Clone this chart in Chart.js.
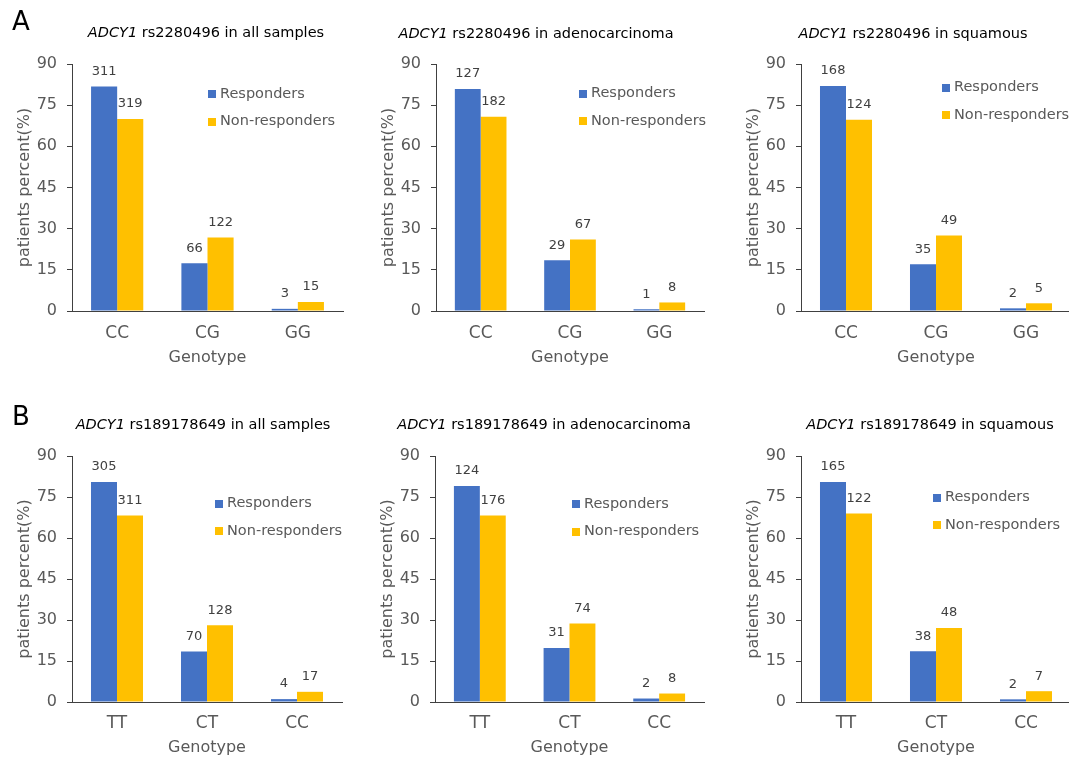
<!DOCTYPE html>
<html>
<head>
<meta charset="utf-8">
<script src="https://cdn.jsdelivr.net/npm/chart.js@4.4.1/dist/chart.umd.min.js"></script>
<style>
  html, body { margin: 0; padding: 0; background: #fff; width: 1069px; height: 759px; overflow: hidden; }
  #stage { position: relative; width: 1069px; height: 759px; overflow: hidden; }
  #stage canvas { position: absolute; }
</style>
</head>
<body>
<div id="stage"></div>
<script>
// ---- data -------------------------------------------------------------
const genotypesA = ['CC', 'CG', 'GG'];   // rs2280496
const genotypesB = ['TT', 'CT', 'CC'];   // rs189178649
const seriesNames = ['Responders', 'Non-responders'];
const yTicks = [0, 15, 30, 45, 60, 75, 90];

// patient counts per genotype
const rs2280496AllResp   = [311, 66, 3];
const rs2280496AllNon    = [319, 122, 15];
const rs2280496AdenoResp = [127, 29, 1];
const rs2280496AdenoNon  = [182, 67, 8];
const rs2280496SquamResp = [168, 35, 2];
const rs2280496SquamNon  = [124, 49, 5];

const rs189178649AllResp   = [305, 70, 4];
const rs189178649AllNon    = [311, 128, 17];
const rs189178649AdenoResp = [124, 31, 2];
const rs189178649AdenoNon  = [176, 74, 8];
const rs189178649SquamResp = [165, 38, 2];
const rs189178649SquamNon  = [122, 48, 7];

// ---- styling ----------------------------------------------------------
const FONT = "'DejaVu Sans', sans-serif";
const AXIS = '#404040';
const TEXT = '#595959';
const COLORS = ['#4472C4', '#FFC000'];

Chart.defaults.font.family = FONT;
Chart.defaults.color = TEXT;

// share of each genotype within one response group, in percent
function percentOf(counts) {
  const total = counts.reduce((a, b) => a + b, 0);
  return counts.map(c => (c / total) * 100);
}

// panel layout (page pixels)
const panels = [
  { tag: 'A', tagPos: [12, 23], gene: 'ADCY1', snp: 'rs2280496', group: 'all samples',
    cats: genotypesA, resp: rs2280496AllResp, non: rs2280496AllNon,
    area: { l: 72, t: 64, r: 343, b: 311 }, row: 0, title: [206, 33], legend: [208, 94] },
  { gene: 'ADCY1', snp: 'rs2280496', group: 'adenocarcinoma',
    cats: genotypesA, resp: rs2280496AdenoResp, non: rs2280496AdenoNon,
    area: { l: 436, t: 64, r: 704, b: 311 }, row: 0, title: [536, 34], legend: [579, 93.5] },
  { gene: 'ADCY1', snp: 'rs2280496', group: 'squamous',
    cats: genotypesA, resp: rs2280496SquamResp, non: rs2280496SquamNon,
    area: { l: 801, t: 64, r: 1071, b: 311 }, row: 0, title: [913, 34], legend: [942, 87.5] },
  { tag: 'B', tagPos: [12, 418], gene: 'ADCY1', snp: 'rs189178649', group: 'all samples',
    cats: genotypesB, resp: rs189178649AllResp, non: rs189178649AllNon,
    area: { l: 72, t: 456, r: 342, b: 702 }, row: 1, title: [203, 425], legend: [215, 503.5] },
  { gene: 'ADCY1', snp: 'rs189178649', group: 'adenocarcinoma',
    cats: genotypesB, resp: rs189178649AdenoResp, non: rs189178649AdenoNon,
    area: { l: 435, t: 456, r: 704, b: 702 }, row: 1, title: [544, 425], legend: [572, 504] },
  { gene: 'ADCY1', snp: 'rs189178649', group: 'squamous',
    cats: genotypesB, resp: rs189178649SquamResp, non: rs189178649SquamNon,
    area: { l: 801, t: 456, r: 1071, b: 702 }, row: 1, title: [930, 425], legend: [933, 497.5] }
];
const rows = [{ top: 0, height: 380, catPad: 12, titlePad: 12.4 },
              { top: 380, height: 379, catPad: 11, titlePad: 1.4 }];
const Y_AXIS_W = 72;

// title (italic gene symbol), legend and panel letter
const decor = {
  id: 'decor',
  afterDraw(chart, args, o) {
    const ctx = chart.ctx;
    ctx.save();
    ctx.textBaseline = 'middle';
    ctx.textAlign = 'left';
    // title
    ctx.fillStyle = '#000';
    ctx.font = `italic ${o.titleSize}px ${FONT}`;
    const w1 = ctx.measureText(o.lead).width;
    ctx.font = `${o.titleSize}px ${FONT}`;
    const w2 = ctx.measureText(o.rest).width;
    const x0 = o.titleX - (w1 + w2) / 2;
    ctx.font = `italic ${o.titleSize}px ${FONT}`;
    ctx.fillText(o.lead, x0, o.titleY);
    ctx.font = `${o.titleSize}px ${FONT}`;
    ctx.fillText(o.rest, x0 + w1, o.titleY);
    // legend
    ctx.font = `${o.legendSize}px ${FONT}`;
    chart.data.datasets.forEach((ds, i) => {
      const y = o.legendY + i * o.legendGap;
      ctx.fillStyle = ds.backgroundColor;
      ctx.fillRect(o.legendX, Math.round(y - 4), 8, 8);
      ctx.fillStyle = TEXT;
      ctx.fillText(ds.label, o.legendX + 12, y);
    });
    // panel letter
    if (o.tag) {
      ctx.fillStyle = '#000';
      ctx.font = `26px ${FONT}`;
      ctx.fillText(o.tag, o.tagX, o.tagY);
    }
    ctx.restore();
  }
};

// patient count above each bar
const countLabels = {
  id: 'countLabels',
  afterDatasetsDraw(chart, args, o) {
    const ctx = chart.ctx;
    ctx.save();
    ctx.font = `${o.size}px ${FONT}`;
    ctx.fillStyle = o.color;
    ctx.textAlign = 'center';
    ctx.textBaseline = 'middle';
    chart.data.datasets.forEach((ds, i) => {
      chart.getDatasetMeta(i).data.forEach((bar, j) => {
        ctx.fillText(String(ds.counts[j]), bar.x, bar.y - o.gap);
      });
    });
    ctx.restore();
  }
};

const stage = document.getElementById('stage');

panels.forEach(p => {
  const row = rows[p.row];
  const left = p.area.l - Y_AXIS_W;
  const rightPad = 24;
  const width = p.area.r - left + rightPad;
  const canvas = document.createElement('canvas');
  canvas.width = width;
  canvas.height = row.height;
  canvas.style.left = left + 'px';
  canvas.style.top = row.top + 'px';
  canvas.style.width = width + 'px';
  canvas.style.height = row.height + 'px';
  stage.appendChild(canvas);

  const xAxisH = row.height - (p.area.b - row.top);

  new Chart(canvas, {
    type: 'bar',
    data: {
      labels: p.cats,
      datasets: [
        { label: seriesNames[0], data: percentOf(p.resp), counts: p.resp, backgroundColor: COLORS[0] },
        { label: seriesNames[1], data: percentOf(p.non), counts: p.non, backgroundColor: COLORS[1] }
      ]
    },
    options: {
      responsive: false,
      animation: false,
      devicePixelRatio: 1,
      datasets: { bar: { categoryPercentage: 0.578, barPercentage: 1.0, borderWidth: 0 } },
      layout: { padding: { left: 0, right: rightPad, top: p.area.t - row.top, bottom: 0 } },
      scales: {
        x: {
          grid: { display: false, drawTicks: false },
          border: { display: true, color: AXIS, width: 1 },
          ticks: { font: { size: 17 }, color: TEXT, padding: row.catPad, maxRotation: 0 },
          title: { display: true, text: 'Genotype', font: { size: 16 }, color: TEXT,
                   padding: { top: 0, bottom: row.titlePad } },
          afterFit: s => { s.height = xAxisH; }
        },
        y: {
          min: 0, max: 90,
          afterBuildTicks: s => { s.ticks = yTicks.map(v => ({ value: v })); },
          grid: { display: true, drawOnChartArea: false, drawTicks: true, tickLength: 5, color: AXIS },
          border: { display: true, color: AXIS, width: 1 },
          ticks: { font: { size: 16 }, color: TEXT, padding: 10 },
          title: { display: true, text: 'patients percent(%)', font: { size: 16 }, color: TEXT,
                   padding: { top: 15.4, bottom: 0 } },
          afterFit: s => { s.width = Y_AXIS_W; }
        }
      },
      plugins: {
        legend: { display: false },
        tooltip: { enabled: false },
        decor: {
          lead: p.gene, rest: ' ' + p.snp + ' in ' + p.group, titleSize: 14.5,
          titleX: p.title[0] - left, titleY: p.title[1] - row.top,
          legendX: p.legend[0] - left, legendY: p.legend[1] - row.top, legendGap: 27.5, legendSize: 14.5,
          tag: p.tag || null,
          tagX: p.tagPos ? p.tagPos[0] - left : 0, tagY: p.tagPos ? p.tagPos[1] - row.top : 0
        },
        countLabels: { size: 13, color: '#404040', gap: 15 }
      }
    },
    plugins: [decor, countLabels]
  });
});
</script>
</body>
</html>
